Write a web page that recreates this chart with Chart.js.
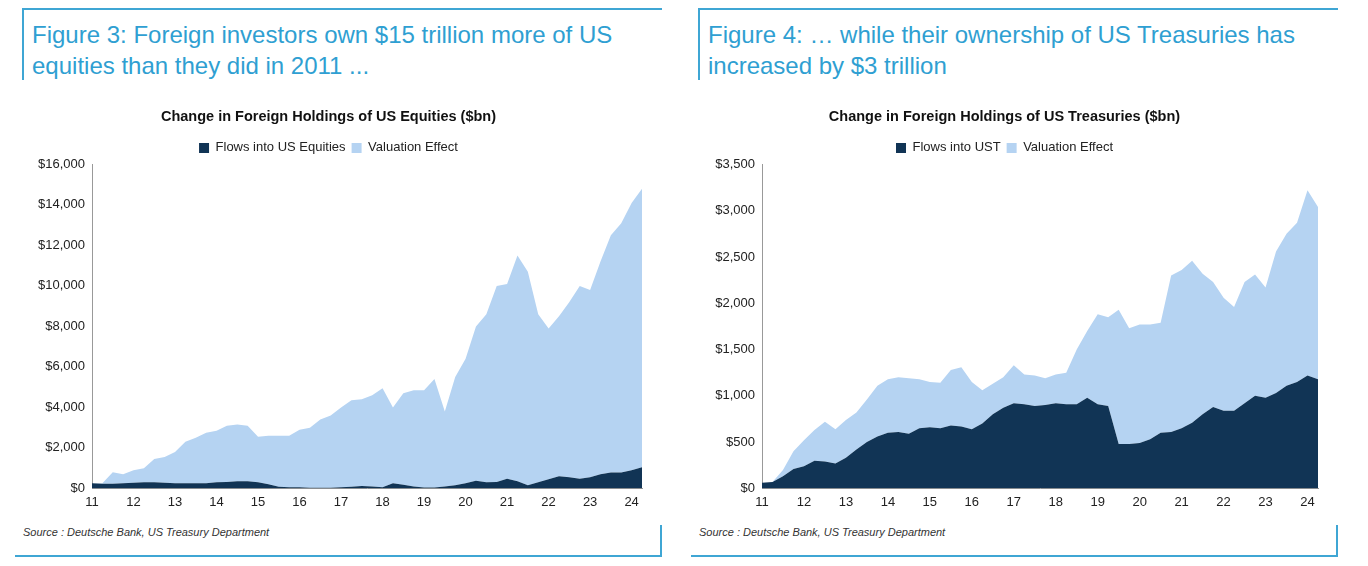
<!DOCTYPE html>
<html>
<head>
<meta charset="utf-8">
<script src="https://cdn.jsdelivr.net/npm/chart.js@4"></script>
<style>
  body { margin: 0; background: #fff; font-family: "Liberation Sans", Arial, sans-serif; }
  .panel { position: absolute; top: 0; width: 645px; height: 566px; }
  .frame-top { position: absolute; left: 7px; top: 8px; width: 638px; height: 70px; border-top: 2px solid #3fa6d4; border-left: 2px solid #3fa6d4; }
  .frame-bot { position: absolute; left: 0; top: 525px; width: 645px; height: 30px; border-bottom: 2px solid #3fa6d4; border-right: 2px solid #3fa6d4; }
  .heading { position: absolute; left: 17px; top: 19px; font-size: 24px; line-height: 31px; color: #2f9fd2; }
  .source { position: absolute; left: 8px; top: 526px; font-size: 11px; font-style: italic; color: #333; }
  .box { position: absolute; left: 0; top: 100px; width: 645px; height: 412px; }
</style>
</head>
<body>
<div class="panel" style="left:15px">
  <div class="frame-top"></div><div class="frame-bot"></div>
  <div class="heading">Figure 3: Foreign investors own $15 trillion more of US<br>equities than they did in 2011 ...</div>
  <div class="source">Source : Deutsche Bank, US Treasury Department</div>
  <div class="box"><canvas id="eqChart"></canvas></div>
</div>
<div class="panel" style="left:691px">
  <div class="frame-top"></div><div class="frame-bot"></div>
  <div class="heading">Figure 4: … while their ownership of US Treasuries has<br>increased by $3 trillion</div>
  <div class="source">Source : Deutsche Bank, US Treasury Department</div>
  <div class="box"><canvas id="ustChart"></canvas></div>
</div>
<script>
// quarters 2011Q1 .. 2024Q2
const quarters = [];
for (let y = 11; y <= 24; y++) {
    for (let q = 1; q <= 4; q++) {
        if (y === 24 && q > 2) break;
        quarters.push(y + 'Q' + q);
    }
}

// US equities ($bn): flows and total holdings change (flows + valuation)
const equityFlows = [250, 230, 230, 260, 280, 300, 300, 280, 260, 260, 250, 260, 300, 320, 350, 350,
    300, 200, 80, 60, 60, 30, 30, 30, 60, 80, 120, 100, 60, 250, 180, 100,
    50, 50, 100, 150, 250, 380, 300, 320, 480, 350, 150, 300, 450, 600, 550, 480,
    550, 700, 780, 780, 900, 1050];
const equityTotal = [250, 250, 800, 700, 900, 1000, 1450, 1550, 1800, 2300, 2500, 2750, 2850, 3100, 3150, 3100,
    2550, 2600, 2600, 2600, 2900, 3000, 3400, 3600, 4000, 4350, 4400, 4600, 4950, 4000, 4700, 4850,
    4850, 5400, 3800, 5500, 6400, 8000, 8600, 10000, 10100, 11500, 10700, 8600, 7900, 8500, 9200, 10000,
    9800, 11200, 12500, 13100, 14100, 14800];

// US Treasuries ($bn)
const ustFlows = [60, 70, 130, 210, 240, 300, 290, 270, 330, 420, 500, 560, 600, 610, 590, 650,
    660, 650, 680, 670, 640, 700, 800, 870, 920, 910, 890, 900, 920, 910, 910, 980,
    910, 890, 480, 480, 490, 530, 600, 610, 650, 710, 800, 880, 840, 840, 920, 1000,
    980, 1030, 1110, 1150, 1220, 1180];
const ustTotal = [60, 70, 200, 400, 520, 630, 720, 640, 740, 820, 960, 1110, 1180, 1200, 1190, 1180,
    1150, 1140, 1280, 1310, 1150, 1060, 1130, 1200, 1330, 1230, 1220, 1190, 1230, 1250, 1500, 1700,
    1880, 1850, 1930, 1730, 1770, 1770, 1790, 2300, 2360, 2460, 2320, 2230, 2060, 1960, 2230, 2310,
    2170, 2560, 2750, 2870, 3220, 3040];

const DARK = '#113455';
const LIGHT = '#b5d3f2';

function makeChart(id, title, flowLabel, flows, total, yMax, yStep, axisWidth) {
    const ctx = document.getElementById(id).getContext('2d');
    return new Chart(ctx, {
        type: 'line',
        data: {
            labels: quarters,
            datasets: [{
                label: flowLabel,
                data: flows,
                backgroundColor: DARK,
                borderWidth: 0,
                pointRadius: 0,
                fill: 'origin',
                order: 1
            }, {
                label: 'Valuation Effect',
                data: total,
                backgroundColor: LIGHT,
                borderWidth: 0,
                pointRadius: 0,
                fill: '-1',
                order: 2
            }]
        },
        options: {
            responsive: true,
            maintainAspectRatio: false,
            animation: false,
            layout: { padding: { left: 0, right: 18, top: 0, bottom: 0 } },
            plugins: {
                title: {
                    display: true,
                    text: title,
                    color: '#111',
                    font: { family: 'Liberation Sans', size: 14.5, weight: 'bold' },
                    padding: { top: 8, bottom: 10 }
                },
                legend: {
                    labels: {
                        boxWidth: 10, boxHeight: 10, color: '#222',
                        font: { family: 'Liberation Sans', size: 13 },
                        padding: 6
                    }
                },
                tooltip: { enabled: false }
            },
            scales: {
                x: {
                    offset: false,
                    grid: { display: false, drawTicks: true, tickLength: 4 },
                    border: { color: '#999' },
                    ticks: {
                        autoSkip: false, maxRotation: 0, color: '#222', padding: 2,
                        font: { family: 'Liberation Sans', size: 13 },
                        callback: function (v, i) {
                            const l = quarters[i];
                            return l.endsWith('Q1') ? l.slice(0, 2) : null;
                        }
                    }
                },
                y: {
                    min: 0, max: yMax,
                    afterFit: s => { s.width = axisWidth; },
                    grid: { display: false, drawTicks: true, tickLength: 4 },
                    border: { color: '#999' },
                    ticks: {
                        stepSize: yStep, color: '#222',
                        font: { family: 'Liberation Sans', size: 13 },
                        callback: v => '$' + v.toLocaleString('en-US')
                    }
                }
            }
        }
    });
}

makeChart('eqChart', 'Change in Foreign Holdings of US Equities ($bn)', 'Flows into US Equities',
    equityFlows, equityTotal, 16000, 2000, 77);
makeChart('ustChart', 'Change in Foreign Holdings of US Treasuries ($bn)', 'Flows into UST',
    ustFlows, ustTotal, 3500, 500, 71);
</script>
</body>
</html>
